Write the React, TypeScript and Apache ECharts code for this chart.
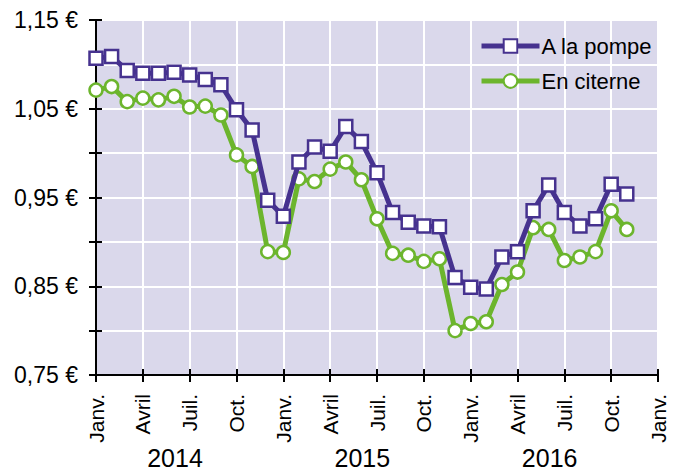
import React, { useEffect, useRef } from "react";
import * as echarts from "echarts";

const months: string[] = [
  "2014-01","2014-02","2014-03","2014-04","2014-05","2014-06","2014-07","2014-08","2014-09","2014-10","2014-11","2014-12",
  "2015-01","2015-02","2015-03","2015-04","2015-05","2015-06","2015-07","2015-08","2015-09","2015-10","2015-11","2015-12",
  "2016-01","2016-02","2016-03","2016-04","2016-05","2016-06","2016-07","2016-08","2016-09","2016-10","2016-11",
];
const pompe: number[] = [
  1.107, 1.109, 1.093, 1.090, 1.090, 1.091, 1.088, 1.083, 1.077, 1.049, 1.026, 0.947,
  0.929, 0.990, 1.007, 1.002, 1.030, 1.013, 0.978, 0.933, 0.922, 0.918, 0.917, 0.860,
  0.849, 0.847, 0.883, 0.889, 0.935, 0.964, 0.933, 0.918, 0.926, 0.965, 0.954,
];
const citerne: number[] = [
  1.071, 1.075, 1.058, 1.062, 1.060, 1.064, 1.052, 1.053, 1.043, 0.998, 0.985, 0.889,
  0.888, 0.971, 0.968, 0.982, 0.990, 0.970, 0.926, 0.887, 0.885, 0.878, 0.881, 0.800,
  0.808, 0.810, 0.852, 0.866, 0.916, 0.914, 0.879, 0.883, 0.889, 0.935, 0.914,
];
const quarterLabels: string[] = ["Janv.", "Avril", "Juil.", "Oct."];
const years: string[] = ["2014", "2015", "2016"];
const yearLabelPos: number[] = [5.06, 17.06, 29.06];

const PURPLE = "#46328f";
const GREEN = "#6cb52d";
const FONT = "'Liberation Sans', Arial, sans-serif";

export default function App() {
  const ref = useRef<HTMLDivElement>(null);
  useEffect(() => {
    if (!ref.current) return;
    const chart = echarts.init(ref.current, undefined, { renderer: "svg" });
    const xBase = {
      type: "value" as const,
      min: 0,
      max: 36,
      interval: 3,
    };
    const yBase = {
      type: "value" as const,
      min: 0.75,
      max: 1.15,
      interval: 0.05,
    };
    const option: any = {
      animation: false,
      textStyle: { fontFamily: FONT },
      grid: {
        left: 96,
        right: 22,
        top: 20,
        bottom: 96,
        show: true,
        backgroundColor: "#dad8eb",
        borderWidth: 0,
      },
      legend: {
        orient: "vertical",
        left: 474,
        top: 30,
        itemWidth: 58,
        itemHeight: 17,
        itemGap: 13,
        lineStyle: { width: 5 },
        textStyle: { fontSize: 22, color: "#000", fontFamily: FONT, padding: [0, 0, 0, -3] },
        data: ["A la pompe", "En citerne"],
      },
      xAxis: [
        {
          ...xBase,
          axisLine: { show: true, lineStyle: { color: "#000", width: 2 } },
          axisTick: { show: true, length: 7, lineStyle: { color: "#000", width: 2 } },
          splitLine: { show: true, lineStyle: { color: "#fff", width: 2 } },
          axisLabel: {
            rotate: 90,
            margin: 19,
            fontSize: 21,
            color: "#000",
            fontFamily: FONT,
            formatter: (v: number) => quarterLabels[Math.round(v / 3) % 4],
          },
        },
        {
          ...xBase,
          position: "bottom",
          axisLine: { show: false },
          axisTick: { show: true, inside: true, length: 6, lineStyle: { color: "#000", width: 2 } },
          splitLine: { show: false },
          axisLabel: { show: false },
        },
      ],
      yAxis: [
        {
          ...yBase,
          axisLine: { show: true, lineStyle: { color: "#000", width: 2 } },
          axisTick: { show: true, length: 7, lineStyle: { color: "#000", width: 2 } },
          splitLine: { show: true, lineStyle: { color: "#fff", width: 2 } },
          axisLabel: {
            margin: 18,
            fontSize: 23,
            color: "#000",
            fontFamily: FONT,
            formatter: (v: number) => {
              const c = Math.round(v * 100);
              if (c % 10 !== 5) return "";
              return v.toFixed(2).replace(".", ",") + " €";
            },
          },
        },
        {
          ...yBase,
          position: "left",
          axisLine: { show: false },
          axisTick: { show: true, inside: true, length: 6, lineStyle: { color: "#000", width: 2 } },
          splitLine: { show: false },
          axisLabel: { show: false },
        },
      ],
      series: [
        {
          name: "A la pompe",
          type: "line",
          data: pompe.map((v, i) => [i, v]),
          symbol: "rect",
          symbolSize: 13,
          lineStyle: { color: PURPLE, width: 5 },
          itemStyle: { color: "#fff", borderColor: PURPLE, borderWidth: 2.5 },
          z: 3,
        },
        {
          name: "En citerne",
          type: "line",
          data: citerne.map((v, i) => [i, v]),
          symbol: "circle",
          symbolSize: 13,
          lineStyle: { color: GREEN, width: 5 },
          itemStyle: { color: "#fff", borderColor: GREEN, borderWidth: 2.5 },
          z: 2,
        },
      ],
    };
    chart.setOption(option);
    const yPix = 458;
    const graphic = years.map((y, i) => {
      const px = chart.convertToPixel({ xAxisIndex: 0 }, yearLabelPos[i]) as number;
      return {
        type: "text",
        x: px,
        y: yPix,
        style: {
          text: y,
          fontSize: 25,
          fontFamily: FONT,
          fill: "#000",
          textAlign: "center",
          textVerticalAlign: "middle",
        },
      };
    });
    chart.setOption({ graphic });
    return () => chart.dispose();
  }, []);
  return (
    <div
      ref={ref}
      style={{ position: "absolute", left: 0, top: 0, width: 680, height: 471 }}
    />
  );
}
